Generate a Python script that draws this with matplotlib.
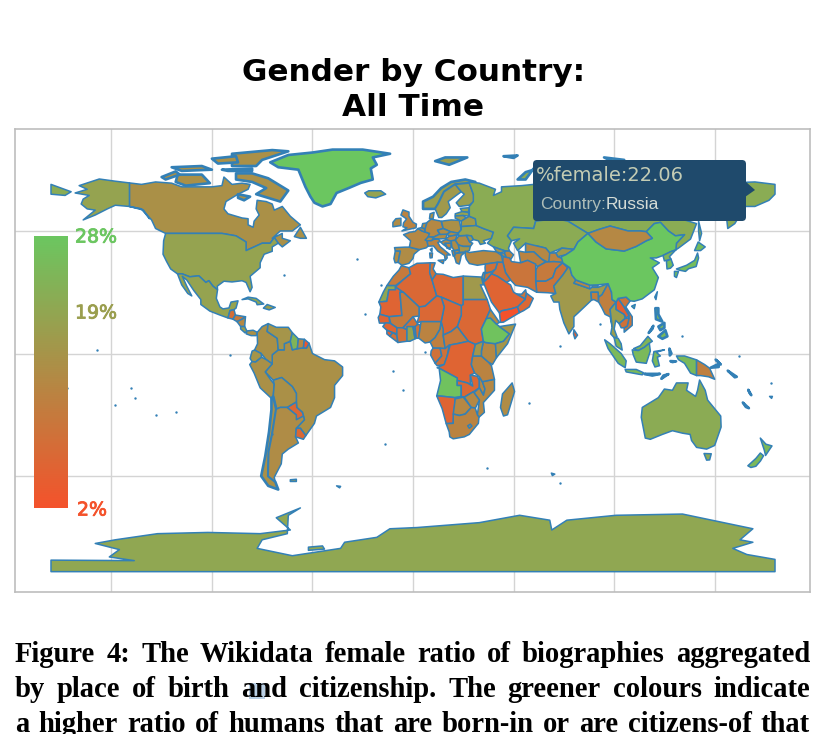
import matplotlib
matplotlib.use("Agg")
import matplotlib.pyplot as plt
import matplotlib.patheffects as pe
from matplotlib.colors import LinearSegmentedColormap, Normalize
from matplotlib.cm import ScalarMappable
from matplotlib.patches import FancyBboxPatch, Polygon, Rectangle

# ---- texts ----
title_lines = "Gender by Country:\nAll Time"
caption_lines = [
    "Figure 4: The Wikidata female ratio of biographies aggregated",
    "by place of birth and citizenship. The greener colours indicate",
    "a higher ratio of humans that are born-in or are citizens-of that",
]
scale_ticks = [28, 19, 2]
tooltip_value = 22.06
tooltip_country = "Russia"

# ---- graticule ----
lon_grid = [-150, -100, -50, 0, 50, 100, 150]
lat_grid = [-50, 0, 50]

# ---- country outlines (lon, lat) ----
north_america = {
 "Canada": [(-141,69.6),(-135,69),(-128,70),(-120,69.5),(-115,68),(-108,68),(-100,68),(-95,68.5),(-94,72),(-90,69),(-85,69.5),(-81,69),(-82,67),(-87,65),(-93,62),(-94,59),(-92,57),(-85,55.3),(-82,55),(-82,52.5),(-79.5,51.5),(-79,54),(-76.5,56.5),(-78,59),(-77.5,62.5),(-73,62),(-70,61),(-69,58.5),(-65,60),(-61,56),(-56,52.5),(-60,50),(-66,50),(-70,47),(-65,49),(-65,47),(-61,46),(-65,43.5),(-67,45),(-69,47.3),(-71,45),(-75,45),(-79,43.5),(-83,42),(-83,45.5),(-88,48),(-95,49),(-123,49),(-128,51),(-130,54.5),(-135,59),(-141,60)],
 "Alaska": [(-141,69.6),(-141,60),(-135,59),(-131,55),(-134,58.5),(-141,60),(-148,60.5),(-152,59),(-158,56.5),(-164,54.5),(-158,58.5),(-162,59),(-165,61),(-164,63),(-161,64.5),(-168,65.5),(-162,67),(-166,68.5),(-156,71.2),(-148,70.3)],
 "USA": [(-123,49),(-95,49),(-88,48),(-83,45.5),(-83,42),(-79,43.5),(-75,45),(-71,45),(-69,47.3),(-67,45),(-70,43.5),(-70,41.7),(-74,40.5),(-76,37),(-76,35),(-81,31.5),(-80,27),(-81,25.2),(-83,29),(-85,29.7),(-90,29.2),(-94,29.5),(-97.3,27.5),(-97.2,26),(-99.5,27.5),(-101.5,29.7),(-103,29),(-106.5,31.7),(-111,31.3),(-114.8,32.5),(-117.1,32.5),(-120.5,34.5),(-122.5,37.5),(-124.3,40.5),(-124,46)],
 "Mexico": [(-117.1,32.5),(-114.8,32.5),(-111,31.3),(-106.5,31.7),(-103,29),(-101.5,29.7),(-99.5,27.5),(-97.2,26),(-97.8,22.5),(-96,19),(-94.5,18.2),(-91.5,18.6),(-90.5,21),(-87,21.5),(-88,18.5),(-89,17.9),(-91,17.5),(-92,14.5),(-96,15.7),(-101,17.3),(-105.5,20),(-105.5,22),(-109,25.7),(-112.5,30),(-114.7,31.5),(-112.5,27.5),(-110,23.5),(-112,24.5),(-115,28)],
 "Greenland": [(-71,78),(-62,81),(-50,82),(-40,83.2),(-25,83.2),(-11.4,81.5),(-20,80),(-18,77),(-21,75.5),(-20,71),(-26,69.6),(-32,67.5),(-38,65.5),(-41,61),(-45,60),(-49,61.5),(-51,64),(-53.5,68),(-55,71),(-57,75),(-67,76)],
 "Baffin": [(-80,73.5),(-72,71.5),(-67,69),(-62,66.5),(-66,62),(-72,63.5),(-78,65),(-73,67.5),(-80,70),(-88,71),(-88,73.5)],
 "Ellesmere": [(-90,76.5),(-78,76.5),(-75,79),(-62,82.5),(-70,83),(-90,81.5)],
 "Victoria": [(-117,73),(-105,73),(-101,69.5),(-113,68.5),(-118,70)],
 "Banks": [(-125,72),(-118,74.3),(-116,73),(-123,71)],
 "Devon": [(-95,75),(-80,75.5),(-80,74.5),(-92,74.5)],
 "Parry": [(-120,76),(-105,76.5),(-100,75),(-115,74.5)],
 "Axel": [(-100,79.5),(-88,80.5),(-87,78),(-97,77.5)],
 "Southampton": [(-87,65),(-81,64),(-84,62.5),(-87,63.5)],
 "Newfoundland": [(-59,47.7),(-56,51.5),(-53,47),(-56,47)],
 "Cuba": [(-85,22),(-82,23),(-78,22.5),(-74.2,20.2),(-77.5,19.9),(-78,21),(-82,22.3)],
 "Hispaniola": [(-74.4,18.5),(-72.5,20),(-68.5,18.8),(-71.5,17.8)],
 "Guatemala": [(-92,14.5),(-91,17.5),(-89,17.9),(-88.3,15.7),(-89.5,14)],
 "Honduras": [(-88.3,15.7),(-83.3,15),(-85,14),(-87.5,13),(-89.5,14)],
 "Nicaragua": [(-87.5,13),(-85,14),(-83.3,15),(-83.7,11),(-85.7,11)],
 "CostaRica": [(-85.7,11),(-83.7,11),(-82.6,9.2),(-83.5,8.4),(-85.7,10)],
 "Panama": [(-82.9,8),(-82.6,9.2),(-79.5,9.5),(-77.3,8.6),(-78,7.3),(-80.5,7.3)],
}
north_america_pct = {"Canada":16,"Alaska":20,"USA":20,"Mexico":20,"Greenland":28,"Baffin":16,"Ellesmere":16,"Victoria":16,"Banks":16,"Devon":16,"Parry":16,"Axel":16,"Southampton":16,"Newfoundland":16,"Cuba":21,"Hispaniola":19,"Guatemala":8,"Honduras":11,"Nicaragua":14,"CostaRica":19,"Panama":16}

south_america = {
 "Brazil": [(-51.7,4.2),(-50,0),(-44,-2.5),(-39,-3),(-35,-5.5),(-35,-9),(-39,-13),(-39,-18),(-41,-22),(-48,-25.5),(-49,-28.5),(-53.3,-33.5),(-56,-30.5),(-58,-30.5),(-54,-27),(-54.5,-25.5),(-55,-24),(-57.8,-22),(-58,-19.8),(-58,-16.3),(-60,-13.5),(-65.3,-9.8),(-69.5,-10.9),(-73.5,-7.5),(-70,-4.2),(-70,-0.5),(-67,1.5),(-64,1.5),(-64,4),(-61,5),(-60,1.5),(-57.5,2),(-54.5,2.3),(-53,2.2)],
 "Colombia": [(-77.5,8.6),(-75,11),(-72,12.2),(-72.5,9),(-67.5,6.2),(-67,1.5),(-70,-0.5),(-70,-4.2),(-73,-2.5),(-75.5,0),(-78.8,1.4),(-77.3,4)],
 "Venezuela": [(-72,12.2),(-68,10.7),(-62,10.7),(-60,8.5),(-61,5),(-64,4),(-64,1.5),(-67,1.5),(-67.5,6.2),(-72.5,9)],
 "Guyana": [(-60,8.5),(-57,6),(-57.5,2),(-60,1.5),(-61,5)],
 "Suriname": [(-57,6),(-54,5.8),(-54.5,2.3),(-57.5,2)],
 "FrGuiana": [(-54,5.8),(-51.7,4.2),(-53,2.2),(-54.5,2.3)],
 "Ecuador": [(-80,1),(-78.8,1.4),(-75.5,0),(-75.3,-1.5),(-78.3,-3.5),(-80,-3.3),(-81,-2)],
 "Peru": [(-81.2,-4.5),(-80,-3.3),(-78.3,-3.5),(-75.3,-1.5),(-73,-2.5),(-70,-4.2),(-73.5,-7.5),(-70.5,-11),(-69,-12.5),(-69.5,-17.5),(-70.4,-18.3),(-76,-14),(-79,-8)],
 "Bolivia": [(-69.5,-10.9),(-65.3,-9.8),(-60,-13.5),(-58,-16.3),(-58,-19.8),(-62.5,-22),(-66,-22),(-68,-22.7),(-69.5,-17.5),(-69,-12.5)],
 "Chile": [(-70.4,-18.3),(-69.5,-17.5),(-68,-22.7),(-70,-33),(-71.7,-40),(-72,-50),(-68.5,-52.3),(-67,-55.5),(-72,-54),(-75.5,-50),(-73.5,-42),(-71.6,-32),(-70.4,-23)],
 "Argentina": [(-66,-22),(-62.5,-22),(-58,-25),(-54.5,-25.5),(-54,-27),(-58,-30.5),(-58.4,-34),(-57,-36.5),(-62,-39),(-65,-41),(-65.5,-45),(-69,-50.5),(-68.5,-52.3),(-72,-50),(-71.7,-40),(-70,-33),(-68,-22.7)],
 "Paraguay": [(-62.5,-22),(-58,-19.8),(-57.8,-22),(-55,-24),(-54.5,-25.5),(-58,-27),(-58,-25)],
 "Uruguay": [(-58,-30.5),(-56,-30.5),(-53.3,-33.5),(-54.5,-35),(-58.4,-34)],
 "Falkland": [(-61,-51.5),(-58,-51.3),(-58,-52.2),(-61,-52.2)],
 "SGeorgia": [(-38,-54),(-36,-54.2),(-36.5,-54.8)],
}
south_america_pct = {"Brazil":16,"Colombia":16,"Venezuela":17,"Guyana":24,"Suriname":14,"FrGuiana":3,"Ecuador":17,"Peru":16,"Bolivia":16,"Chile":16,"Argentina":15,"Paraguay":7,"Uruguay":7,"Falkland":18,"SGeorgia":18}

europe = {
 "Iceland": [(-24,65.5),(-22,66.4),(-16,66.4),(-13.6,65),(-18.5,63.5),(-22.5,64)],
 "Portugal": [(-9.5,38.7),(-8.8,41.9),(-6.3,41.8),(-7,39),(-7.4,37.2),(-8.9,37)],
 "Spain": [(-8.8,41.9),(-9.2,43.2),(-4,43.4),(-1.8,43.4),(3.2,42.4),(0.5,40.5),(0,38.8),(-2,36.8),(-5.5,36),(-7.4,37.2),(-7,39),(-6.3,41.8)],
 "France": [(-1.8,43.4),(3.2,42.4),(6.5,43.1),(7.5,43.8),(7,46),(8.2,49),(4.5,50),(2.5,51),(1,49.8),(-1.5,49.5),(-4.7,48.5),(-1.2,46)],
 "Belgium": [(2.5,51),(4.3,51.4),(6,50.7),(5.8,49.6),(4.5,50)],
 "Netherlands": [(4.3,51.4),(4.8,53),(7,53.3),(6,50.8)],
 "Germany": [(7,53.5),(9,54.8),(14,54),(15,51),(12.2,50.3),(13.5,48.6),(10,47.4),(7.6,47.6),(8.2,49),(6,49.6),(6,50.8)],
 "Switzerland": [(7,46),(6,46.3),(7.6,47.6),(9.5,47.5),(10.4,46.6),(9,46)],
 "Austria": [(9.5,47.5),(10,47.4),(13,48.6),(17,48.7),(16.3,46.9),(12.5,46.7),(10.4,46.9)],
 "Italy": [(7,46),(7.5,43.8),(10.2,43.9),(12.3,41.8),(15.7,40),(16,38),(17,39),(16.8,40.2),(18.5,40.2),(16,41.9),(13.5,43.6),(12.3,45.3),(13.7,45.7),(12.5,46.7),(10.4,46.6),(9,46)],
 "Sicily": [(12.5,38),(15.5,38.2),(15,36.7)],
 "Sardinia": [(8.3,41),(9.7,41),(9.5,39.1),(8.5,39)],
 "Corsica": [(8.6,42.4),(9.5,43),(9.4,41.5)],
 "UK": [(-5.5,50),(1.5,51.3),(1.7,52.8),(0,53.5),(-2,56),(-2,57.7),(-5,58.6),(-6,56.5),(-3.2,54.9),(-4.7,53.3),(-5,51.7),(-3,51.3)],
 "Ireland": [(-6,52.2),(-6,53.8),(-6,55.2),(-8.5,55),(-10,53.5),(-10,51.7)],
 "Denmark": [(8.2,55),(8.5,57),(10.5,57.6),(10,55)],
 "Norway": [(5,59),(5,62),(10,64),(14,67.5),(19,70),(26,71),(31,70),(28,69.5),(21,69),(15.5,66),(12.5,61),(11,59)],
 "Sweden": [(11,59),(12.5,61),(15.5,66),(21,69),(24,66),(21.5,64.5),(17.5,62),(18.5,59.5),(16.5,57),(14.3,55.5),(12.8,55.5)],
 "Finland": [(21,69),(28,69.5),(30,65),(31,62.5),(28,60.5),(23,60),(21.5,61.5),(25.5,65),(24,66)],
 "Svalbard": [(11,78.5),(16,80),(27,80),(18,77)],
 "Estonia": [(23.5,59.2),(28,59.5),(27.5,57.6),(24.3,57.9)],
 "Latvia": [(21,57),(24.3,57.9),(27.5,57.6),(28,56),(25,56.3),(21,56.1)],
 "Lithuania": [(21,56.1),(25,56.3),(26.5,55.3),(24,54),(21,55.2)],
 "Poland": [(14.2,54),(19,54.5),(23,54.3),(24,50.5),(22.5,49.1),(19,49.5),(15,51)],
 "Czechia": [(12.2,50.3),(15,51),(18.7,49.7),(17,48.7),(13.5,48.6)],
 "Slovakia": [(17,48.7),(18.7,49.7),(22.5,49.1),(22,48.4),(18,47.8)],
 "Hungary": [(16.3,46.9),(18,47.8),(22,48.4),(21,46.2),(18,45.8)],
 "Romania": [(21,46.2),(22.8,48),(26.5,48.2),(28.2,45.5),(29.7,45),(28.5,43.7),(25,43.7),(22.5,44.3)],
 "Bulgaria": [(22.5,44.3),(25,43.7),(28.5,43.7),(28,42),(26,41.3),(23,41.3)],
 "Greece": [(20.5,39.6),(21,40.8),(26,41.3),(24,40),(23.5,38),(23,36.5),(21.5,37),(21,38.5)],
 "Albania": [(19.3,42),(20.5,42),(21,40.4),(20,39.7)],
 "Macedonia": [(20.5,42),(23,42.2),(23,41.3),(21,40.8)],
 "Serbia": [(19,46),(21,46.2),(22.5,44.3),(23,42.5),(20.5,42),(19.3,43.5)],
 "Bosnia": [(15.8,45),(19,45),(19,43),(17,43)],
 "Croatia": [(13.7,45.5),(16.3,46.5),(19,45.8),(19,45),(15.8,45),(17,43),(18.5,42.5),(15,44.5)],
 "Belarus": [(24,54),(26.5,55.3),(28,56),(31,55),(31.5,52.2),(24,51.8)],
 "Ukraine": [(24,50.5),(24,51.8),(31.5,52.2),(35,51),(40,49.5),(39,47),(35,46),(36,45),(33.5,44.5),(32.5,46),(30,46.5),(29,48),(26.5,48.2),(22.8,48),(22.5,49.1)],
 "Moldova": [(26.5,48.2),(29,48),(30,46.5),(28.2,45.5)],
}
europe_pct = {"Iceland":20,"Portugal":15,"Spain":15,"France":14,"Belgium":14,"Netherlands":15,"Germany":14,"Switzerland":15,"Austria":15,"Italy":13,"Sicily":13,"Sardinia":13,"Corsica":14,"UK":13,"Ireland":15,"Denmark":16,"Norway":19,"Sweden":18,"Finland":19,"Svalbard":19,"Estonia":20,"Latvia":20,"Lithuania":18,"Poland":16,"Czechia":15,"Slovakia":15,"Hungary":14,"Romania":15,"Bulgaria":17,"Greece":14,"Albania":12,"Macedonia":14,"Serbia":15,"Bosnia":13,"Croatia":14,"Belarus":18,"Ukraine":20,"Moldova":18}

asia = {
 "Russia": [(28,70),(33,69.5),(41,67),(40,64.5),(44,66),(44,68),(54,68.5),(60,69),(68,68.5),(68,72.5),(73,72),(75,72.8),(80,73.5),(87,75),(100,76.5),(105,77.7),(113,74),(125,73.5),(130,71),(140,72.5),(150,71),(160,69.7),(170,70),(180,69),(180,65),(177,62.5),(170,60),(164,60),(163,57),(160,53),(156.5,51),(155.7,57),(163,62),(156,61.5),(150,59.5),(142,59),(135,54.5),(141,53),(138,46.7),(132,43),(130.7,42.3),(131,45),(135,48.5),(130.5,48),(127,50),(123,53.5),(120,53),(116,49.7),(113,50),(107,50),(98,52),(92,50.5),(87,49),(83,51),(77,54),(71,55),(61,54),(60,51),(50,51.5),(47,48),(49,46),(47.5,43),(48,41.8),(46,41.8),(40,43.5),(37,45),(39,47),(40,49.5),(35,51),(31.5,52.2),(31,55),(28,56),(28,60),(30,62),(30,65),(28,69.5)],
 "Chukotka": [(-180,69),(-175,67.5),(-170,66),(-173,64.5),(-180,65)],
 "Novaya": [(52,71),(56,74),(68,77),(60,75.5),(56,71)],
 "FranzJosef": [(45,80.5),(52,80.8),(50,79.8)],
 "Severnaya": [(95,80),(105,79),(100,78)],
 "Sakhalin": [(142,54),(143.5,49),(142.5,46),(142,50)],
 "Turkey": [(26,40),(26,41.8),(28,41.2),(35,42),(41.5,41.5),(44,40),(44.7,37.2),(42,37.2),(36,36.5),(32,36),(28,36.7),(26.5,38.5)],
 "Georgia": [(40,43.5),(46,41.8),(43.5,41),(41.5,41.5)],
 "Armenia": [(43.5,41),(45.5,41),(46.5,39),(44.7,39.7)],
 "Azerbaijan": [(46,41.8),(48,41.8),(50,40.3),(48.7,38.5),(46.5,39),(45.5,41)],
 "Kazakhstan": [(47,48),(50,51.5),(60,51),(61,54),(71,55),(77,54),(83,51),(87,49),(82,45.5),(80,42.5),(74,43),(68,41),(66,43),(61,44),(56,41.3),(56,45),(52,42),(50,45),(53,46.8),(49,46)],
 "Uzbekistan": [(56,41.3),(56,45),(61,44),(66,43),(68,41),(71,41),(67,37.3),(64,38.5),(60,41.5)],
 "Turkmenistan": [(52.5,41.8),(56,41.3),(60,41.5),(64,38.5),(66,37.3),(62,35.5),(57,38),(53.5,37)],
 "Kyrgyzstan": [(71,41),(74,43),(80,42.5),(76,40.3),(72,39.5)],
 "Tajikistan": [(68,41),(71,41),(72,39.5),(75,38.5),(75,37),(70,37.5),(67.5,37.3)],
 "Afghanistan": [(62,35.5),(66,37.3),(70,37.5),(74.5,37.2),(71,34.5),(69.5,31),(66,29.5),(61,29.5),(61,34)],
 "Pakistan": [(61,29.5),(66,29.5),(69.5,31),(71,34.5),(74.5,37),(77,35),(74.5,32),(70,27.5),(71,24.5),(67,24.8),(61.5,25)],
 "Iran": [(44.7,39.5),(48,39),(49,37.5),(53.5,37),(57,38),(61,36.5),(61,29.5),(61.5,25),(57,27),(51,27.8),(48.5,30),(46,33),(44.7,37.2)],
 "Iraq": [(42,37.2),(44.7,37.2),(46,33),(48.5,30),(46.5,29),(42,31.5),(39,32.5),(41,34.5)],
 "Syria": [(36,36.5),(42,37.2),(41,34.5),(38.5,33),(36,33),(35.8,35)],
 "Jordan": [(35.5,32.5),(38.8,33.4),(39,32.5),(37,30.5),(35,29.5)],
 "Israel": [(34.3,31.3),(35,33),(35.8,33.2),(35.5,31),(35,29.5)],
 "Saudi": [(35,29),(37,30.5),(39,32.5),(42,31.5),(46.5,29),(48.5,28),(50,25),(51.5,24.3),(55,22.7),(55.7,22),(52,19),(48.7,18.2),(44,17.4),(43,16.5),(39,21),(37,25)],
 "Yemen": [(43,16.5),(44,17.4),(48.7,18.2),(52,19),(53,16.7),(45,12.8),(43.5,12.7)],
 "Oman": [(52,19),(55.7,22),(56.3,24.7),(59.8,22.5),(57.8,19),(55,17.5),(53,16.7)],
 "UAE": [(51.5,24.3),(55,22.7),(55.7,22),(56.3,24.7),(56,26),(54,24.2)],
 "India": [(74.5,37),(78,35),(79,32),(81,30),(80,28.7),(88,26.4),(89,27),(92,27),(97,28.5),(94,24),(92.3,23),(92,25),(88.5,25),(88.8,21.8),(86.5,20),(82,16.5),(80,15),(80,11),(77.5,8),(75,12.5),(73,18),(72.6,21),(70,21),(68.5,23.5),(71,24.5),(70,27.5),(74.5,32),(77,35)],
 "Nepal": [(80,28.7),(81,30),(88,27.9),(88,26.4)],
 "Bhutan": [(89,27),(92,27),(92,28),(89,28)],
 "Bangladesh": [(88.5,25),(92,25),(92.3,21),(90,22),(88.8,21.8)],
 "SriLanka": [(80,9.7),(81.8,7.5),(80.5,6),(79.8,8)],
 "Myanmar": [(97,28.5),(98.7,25),(99,22),(101,21),(98,18),(99,11),(98,15),(95.5,16),(94,18.5),(92.3,21),(92.3,23),(94,24)],
 "Thailand": [(98,18),(101,21),(101,18),(105,16),(105.5,14.3),(102.5,12.2),(100.8,13.5),(100,10),(101.5,6.7),(100,6.5),(98.3,8),(99,11)],
 "Laos": [(101,21),(102,22.5),(105,19),(107.5,15.5),(106,14.5),(105,16),(101,18)],
 "Vietnam": [(102,22.5),(106,23),(108,21.5),(105.8,19),(109,15),(109,11.5),(105,8.7),(105,10.5),(106.5,11.2),(107.5,15.5),(105,19)],
 "Cambodia": [(102.5,12.2),(105.5,14.3),(107.5,14.5),(106.5,11.2),(105,10.5),(103.5,10.5)],
 "MalaysiaW": [(100,6.5),(102,6.2),(103.5,4),(104,1.4),(101,3)],
 "MalaysiaE": [(109.7,2),(113,3.2),(116.8,7),(119,5),(117.5,4.2),(115,2.5),(112,1.2)],
 "Sumatra": [(95.3,5.6),(98,4),(103.5,0),(106,-3),(105.5,-5.8),(102,-4),(97,2)],
 "Java": [(105.5,-6.5),(111,-6.5),(114.5,-7.8),(114,-8.7),(106,-7.5)],
 "Kalimantan": [(109,1.5),(112,1.2),(115,2.5),(117.5,4.2),(118,1),(116,-4),(111,-3.5),(109.5,-0.5)],
 "Sulawesi": [(119.8,0.8),(125,1.5),(121,0.5),(123,-1),(121.5,-1.5),(122.5,-5),(120.3,-5.5),(119,-3)],
 "Halmahera": [(127.5,2),(128.5,0),(127.7,-0.8)],
 "Ceram": [(128,-3.1),(130.8,-3.2),(129,-3.5)],
 "Timor": [(123.5,-10.3),(127,-8.4),(124.5,-9)],
 "Flores": [(115,-8.3),(122.8,-8.3),(119,-9)],
 "Papua": [(141,-2.6),(141,-9),(138,-8),(135,-4),(132,-2.5),(131,-1),(135,-1)],
 "PNG": [(141,-2.6),(145,-4.5),(147.5,-6),(150,-10.5),(147,-9.5),(143,-9),(141,-9)],
 "NewBritain": [(148,-5.8),(152,-4.2),(152,-5.5)],
 "NewIreland": [(150.5,-2.5),(153,-4.5),(152,-3.6)],
 "Luzon": [(120.5,18.5),(122,18.5),(122,16),(124,13),(120.8,14)],
 "Visayas": [(122,11),(125,12.5),(125,10.5),(123,9.5)],
 "Mindanao": [(122,7),(125.5,9.5),(126.5,7),(124,6)],
 "Palawan": [(117.2,8.4),(119.5,11.3),(119,10)],
 "China": [(73.7,39.5),(76,40.3),(80,42.5),(82,45.5),(87,49),(91,45.5),(96,42.7),(105,41.8),(111,43.7),(116,46),(119,47),(116,49.7),(120,53),(123,53.5),(127,50),(130.5,48),(135,48.5),(131,45),(130.7,42.3),(128,41.5),(124.3,40),(121,39),(118,39),(122.5,37),(119,35),(122,31),(120,26),(114,22.3),(110,21.3),(108,21.5),(106,23),(102,22.5),(101,21),(99,22),(98.7,25),(97,28.5),(92,28),(88,27.9),(81,30),(79,32),(78,35),(74.5,37)],
 "Hainan": [(108.7,19.3),(110.5,20),(110,18.3)],
 "Taiwan": [(120.2,23),(121.5,25.2),(120.8,22)],
 "Mongolia": [(87,49),(91,45.5),(96,42.7),(105,41.8),(111,43.7),(116,46),(119,47),(116,49.7),(113,50),(107,50),(98,52),(92,50.5)],
 "NKorea": [(124.3,40),(128,41.5),(130.7,42.3),(127.5,39.5),(128.3,38.5),(125,37.8)],
 "SKorea": [(126,37.7),(128.3,38.5),(129.4,36),(128,34.8),(126.3,34.5)],
 "Honshu": [(131,34.5),(136,36),(140,38),(141.5,41),(142,39),(140.8,35.5),(137,34.6),(135.5,33.5),(132.5,34)],
 "Hokkaido": [(140,42),(141.8,45.5),(145.3,43.5),(143,42)],
 "Kyushu": [(130,33.5),(132,33.5),(131,31),(130,31.5)],
}
asia_pct = {"Russia":22.06,"Chukotka":22.06,"Novaya":22.06,"FranzJosef":22.06,"Severnaya":22.06,"Sakhalin":22.06,"Turkey":14,"Georgia":17,"Armenia":15,"Azerbaijan":13,"Kazakhstan":22,"Uzbekistan":14,"Turkmenistan":13,"Kyrgyzstan":18,"Tajikistan":13,"Afghanistan":11,"Pakistan":10,"Iran":10,"Iraq":9,"Syria":9,"Jordan":10,"Israel":15,"Saudi":6,"Yemen":2,"Oman":7,"UAE":10,"India":18,"Nepal":14,"Bhutan":16,"Bangladesh":12,"SriLanka":5,"Myanmar":12,"Thailand":19,"Laos":5,"Vietnam":10,"Cambodia":9,"MalaysiaW":24,"MalaysiaE":24,"Sumatra":25,"Java":25,"Kalimantan":25,"Sulawesi":25,"Halmahera":25,"Ceram":25,"Timor":25,"Flores":25,"Papua":25,"PNG":12,"NewBritain":12,"NewIreland":12,"Luzon":25,"Visayas":25,"Mindanao":25,"Palawan":25,"China":28,"Hainan":28,"Taiwan":24,"Mongolia":14,"NKorea":24,"SKorea":26,"Honshu":26,"Hokkaido":26,"Kyushu":26}

africa = {
 "Morocco": [(-5.8,35.8),(-2,35),(-1.2,32.5),(-5,30),(-8.7,27.7),(-13,27.7),(-9.8,31.5),(-7,34)],
 "WSahara": [(-13,27.7),(-8.7,27.7),(-8.7,26),(-12,26),(-13,21.3),(-17,21),(-14.8,25)],
 "Mauritania": [(-17,21),(-13,21.3),(-12,26),(-8.7,26),(-8.7,27.2),(-4.8,25),(-6.5,25),(-5.5,15.5),(-12,15),(-16.5,16),(-16,19)],
 "Algeria": [(-2,35),(2,36.8),(8.6,37),(8.3,33),(9.5,30),(11.8,23.5),(6,19.3),(3,19),(-4.8,25),(-8.7,27.2),(-5,30),(-1.2,32.5)],
 "Tunisia": [(8.6,37),(11,37),(10,34.5),(11.5,32.5),(9.5,30),(8.3,33)],
 "Libya": [(11.5,32.5),(15,32.3),(20,31),(25,31.6),(25,20),(24,19.5),(14,23),(11.8,23.5),(9.5,30)],
 "Egypt": [(25,31.6),(34,31.2),(35,28),(33.5,28),(36.9,22),(25,22)],
 "Sudan": [(25,22),(36.9,22),(38.5,18),(36.5,14.3),(34,10),(35,5),(31,3.7),(27.5,5),(24,8.7),(22,11),(24,15.7),(24,19.5),(25,20)],
 "Chad": [(14,23),(24,19.5),(24,15.7),(22,11),(19,9),(15,7.5),(14,13),(15.5,19)],
 "Niger": [(3,15.3),(3,19),(6,19.3),(11.8,23.5),(14,23),(15.5,19),(14,13),(9,13),(4,13),(2,12.5)],
 "Mali": [(-12,15),(-5.5,15.5),(-6.5,25),(-4.8,25),(3,19),(3,15.3),(0,15),(-5,10.5),(-8,10.5),(-11,12.2)],
 "Senegal": [(-16.5,16),(-12,15),(-11.5,12.4),(-16.7,12.4),(-17.3,14.7)],
 "Guinea": [(-15,11),(-13.7,12.5),(-11.5,12.4),(-8,10.5),(-8,8),(-10,8.5),(-13,9.5)],
 "SierraLeone": [(-13,9.5),(-10,8.5),(-11.5,7),(-13,8)],
 "Liberia": [(-11.5,7),(-10,8.5),(-8,7.5),(-7.5,4.5)],
 "IvoryCoast": [(-8,7.5),(-8,10.5),(-5,10.5),(-3,9.8),(-3,5),(-7.5,4.5)],
 "Burkina": [(-5,10.5),(0,15),(2,12.5),(2.5,11),(-3,9.8)],
 "Ghana": [(-3,5),(-3,11),(0,11),(1,6),(-1.5,5)],
 "Togo": [(0,11),(1,11),(1.6,6.2),(1,6)],
 "Benin": [(1,11),(2.5,12),(3.7,11.5),(2.8,6.3),(1.6,6.2)],
 "Nigeria": [(2.8,6.3),(3.7,11.5),(4,13),(9,13),(14,13),(13.5,10),(11,6.5),(8.5,4.7),(6,4.3)],
 "Cameroon": [(8.5,4.7),(11,6.5),(13.5,10),(14,13),(15,10),(15,7.5),(16,2),(10,2.2)],
 "CAR": [(15,7.5),(19,9),(22,11),(24,8.7),(27.5,5),(22,4),(18.5,3.5),(16,2)],
 "Gabon": [(9,1),(10,2.2),(13.5,2.2),(14.3,-1),(11,-4),(8.8,-0.7)],
 "Congo": [(11,-4),(14.3,-1),(13.5,2.2),(16,2),(18,3.5),(17,-1),(15.5,-4.5),(12,-5)],
 "DRC": [(12,-5.8),(15.5,-4.5),(17,-1),(18.5,3.5),(22,4),(27.5,5),(31,3.7),(29.7,-1),(29,-4.5),(30.7,-8),(28.5,-8.8),(28.5,-12),(29.7,-13.3),(27,-12),(22,-11),(22,-10),(17.5,-8),(13,-6)],
 "Angola": [(13,-6),(17.5,-8),(22,-10),(22,-13),(24,-13),(24,-17.5),(20.8,-18),(14,-17.4),(11.8,-17.3),(13.7,-11)],
 "Zambia": [(22,-11),(27,-12),(29.7,-13.3),(28.5,-8.8),(32,-9.3),(33,-11),(33,-14),(30,-15.6),(25.5,-17.8),(24,-17.5),(24,-13),(22,-13)],
 "Malawi": [(33,-9.5),(34.5,-11.5),(35.8,-14.5),(35,-17),(33,-14),(33,-11)],
 "Mozambique": [(34.5,-11.5),(40.5,-10.5),(40.5,-15),(35,-20),(35.5,-24),(32.8,-26),(32,-25),(33,-19),(30.3,-16),(33,-14),(35,-17),(35.8,-14.5)],
 "Tanzania": [(29.7,-1),(34,-1),(37.5,-3.5),(39,-5),(40.5,-10.5),(34.5,-11.5),(33,-9.5),(30.7,-8),(29,-4.5)],
 "Kenya": [(34,-1),(37.5,-3.5),(39.5,-4.5),(41.5,-1.7),(41,4),(36,4.5),(35,5),(34,1)],
 "Uganda": [(29.7,-1),(34,-1),(34,1),(35,5),(31,3.7)],
 "Ethiopia": [(36.5,14.3),(38.5,14.5),(41.5,12),(43,11),(48,8),(45,5),(41,4),(36,4.5),(35,5),(34,10)],
 "Eritrea": [(38.5,18),(43,12.7),(41.5,12),(38.5,14.5),(36.5,14.3)],
 "Somalia": [(43,11),(51,12),(47,4),(41.5,-1.7),(41,4),(45,5),(48,8)],
 "Namibia": [(11.8,-17.3),(14,-17.4),(20.8,-18),(25,-17.8),(21,-18.5),(20,-28.5),(16.5,-28.6),(14.5,-22.5)],
 "Botswana": [(21,-18.5),(25,-17.8),(29,-22),(26,-24.7),(23,-25.3),(20,-24.7)],
 "Zimbabwe": [(25.5,-17.8),(30,-15.6),(33,-19),(31,-22.3),(29,-22)],
 "SouthAfrica": [(16.5,-28.6),(20,-28.5),(20,-24.7),(23,-25.3),(26,-24.7),(29,-22),(31,-22.3),(32,-25),(32.8,-26),(32.5,-28.5),(28,-33),(25.5,-34),(20,-34.8),(18.3,-34),(18,-32)],
 "Lesotho": [(27.2,-29.5),(28.5,-28.8),(29.3,-29.6),(28,-30.5)],
 "Madagascar": [(49.3,-12),(50.5,-15.5),(47,-25),(45,-25.5),(43.5,-22),(44.5,-16.5)],
}
africa_pct = {"Morocco":11,"WSahara":21,"Mauritania":6,"Algeria":7,"Tunisia":10,"Libya":7,"Egypt":18,"Sudan":7,"Chad":7,"Niger":7,"Mali":11,"Senegal":6,"Guinea":6,"SierraLeone":5,"Liberia":9,"IvoryCoast":9,"Burkina":9,"Ghana":20,"Togo":9,"Benin":9,"Nigeria":13,"Cameroon":12,"CAR":11,"Gabon":9,"Congo":9,"DRC":6,"Angola":27,"Zambia":7,"Malawi":14,"Mozambique":14,"Tanzania":13,"Kenya":14,"Uganda":17,"Ethiopia":27,"Eritrea":14,"Somalia":17,"Namibia":6,"Botswana":14,"Zimbabwe":14,"SouthAfrica":13,"Lesotho":13,"Madagascar":15}

oceania = {
 "Australia": [(114,-22),(113.5,-26),(115.5,-34.5),(118,-35),(124,-33),(129,-31.5),(134,-32.5),(137.8,-33),(138.5,-35.5),(141,-38.3),(146,-39),(150,-37.5),(153.2,-30),(153,-25.5),(146.5,-19),(145.3,-15),(142.5,-10.8),(141.5,-15),(140.5,-17.5),(136,-15),(136.8,-12),(131,-12),(129,-15),(125,-14.5),(122,-18),(117,-20.5)],
 "Tasmania": [(144.7,-40.8),(148.3,-40.9),(147.5,-43.4),(146,-43.5)],
 "NZNorth": [(172.7,-34.5),(175.5,-37),(178.5,-37.7),(177,-39.5),(175.3,-41.6),(174.7,-39.5)],
 "NZSouth": [(172.7,-40.6),(174.3,-41.7),(172.8,-43.8),(170.5,-46),(168,-46.5),(166.5,-45.8),(170.5,-42.8)],
 "NewCaledonia": [(164,-20),(167,-22.3),(165.5,-21.8)],
 "Vanuatu": [(166.7,-14.8),(168.2,-17),(167.3,-16)],
 "Solomon": [(156.5,-7),(161,-9.5),(160,-9.7)],
 "Fiji": [(177.3,-17.5),(178.7,-17.5),(178.3,-18.3)],
 "Kerguelen": [(68.8,-48.8),(70.5,-49.2),(69.3,-49.8)],
 "Antarctica": [(-180,-89),(-180,-84.3),(-138.6,-84.5),(-151,-83),(-146,-80),(-158,-77.5),(-148,-76),(-127,-73.5),(-102,-73),(-76,-73.5),(-61,-72),(-68,-67),(-56,-63),(-62,-66),(-62.5,-73.5),(-75,-76),(-77.5,-79.5),(-60,-82.5),(-36,-79.5),(-34,-77),(-18,-75),(-11.5,-71.5),(2,-71),(33,-69),(53,-66),(68,-68),(69,-72),(76.5,-68),(101,-66),(134,-65.5),(169,-71.5),(162.6,-76),(169,-77),(159,-79.5),(166,-82),(180,-84),(180,-89)],
 "Berkner": [(-52,-79),(-45,-78.5),(-44,-79.8),(-52,-80.3)],
}
oceania_pct = {"Australia":22,"Tasmania":22,"NZNorth":25,"NZSouth":25,"NewCaledonia":22,"Vanuatu":22,"Solomon":22,"Fiji":22,"Kerguelen":21,"Antarctica":21,"Berkner":21}

# shapes whose broken coast reads as a heavier blue line in the reference
rugged_coasts = ["Greenland","Baffin","Ellesmere","Victoria","Banks","Devon","Parry","Axel","Southampton","Chile",
                 "Norway","Svalbard","Novaya","FranzJosef","Severnaya","Luzon","Visayas","Mindanao","Palawan",
                 "NewBritain","NewIreland","Solomon","Vanuatu","NewCaledonia","Timor","Flores","Ceram","Halmahera"]

# tiny islands, too small to outline
islet_lon = [-157,-140,-138,-148,-118,-91,-28,-16,-24,-64,-5,-10,6,57.5,73,93,37,73,-128,-70,178,-172,-14,162,134]
islet_lat = [1.4,-14,-18,-21,-24,-0.5,38.6,28,16,32,-15,-7,0.5,-20.3,3,12,-46.8,-53,-25,-33,-12,-14,-37,-1,7]

# ---- colours ----
edge_blue = "#3380b6"
low_red = "#f4522b"
high_green = "#6bc660"
tip_blue = "#1f4a6c"
grid_grey = "#d4d4d4"
frame_grey = "#bdbdbd"

plt.rcParams["font.family"] = "DejaVu Sans"
W, H = 831, 734
fig = plt.figure(figsize=(W / 100, H / 100), dpi=100)
cmap = LinearSegmentedColormap.from_list("female", [low_red, high_green])
norm = Normalize(min(scale_ticks), max(scale_ticks))

ax = fig.add_axes([15 / W, (H - 592) / H, 795 / W, 463 / H])
ax.set_xlim(-197.9, 197.4)
ax.set_ylim(-97.3, 91.6)
ax.set_xticks(lon_grid)
ax.set_yticks(lat_grid)
ax.tick_params(length=0, labelbottom=False, labelleft=False)
ax.grid(True, color=grid_grey, lw=1)
ax.set_axisbelow(True)
for s in ax.spines.values():
    s.set_color(frame_grey)
    s.set_linewidth(1.2)

for shapes, pct in [(north_america, north_america_pct), (south_america, south_america_pct),
                    (europe, europe_pct), (asia, asia_pct), (africa, africa_pct),
                    (oceania, oceania_pct)]:
    for name, outline in shapes.items():
        lw = 1.9 if name in rugged_coasts else 1.1
        ax.add_patch(Polygon(outline, closed=True, facecolor=cmap(norm(pct[name])),
                             edgecolor=edge_blue, lw=lw, joinstyle="round", zorder=2))
ax.scatter(islet_lon, islet_lat, s=3, color=edge_blue, linewidths=0, zorder=2)

# colour scale
cax = fig.add_axes([34 / W, (H - 508) / H, 34 / W, 272 / H])
cb = fig.colorbar(ScalarMappable(norm=norm, cmap=cmap), cax=cax)
cb.outline.set_visible(False)
cb.set_ticks([])

# overlay in pixels for the labels, the tooltip and the caption
ov = fig.add_axes([0, 0, 1, 1], zorder=5)
ov.set_xlim(0, W)
ov.set_ylim(H, 0)
ov.axis("off")

for tick, y, x in zip(scale_ticks, [237, 313, 510], [75, 75, 77]):
    c = cmap(norm(tick))
    ov.text(x, y, f"{tick}%", color=c, fontsize=13.6, va="center", ha="left",
            path_effects=[pe.withStroke(linewidth=0.6, foreground=c)])

ov.text(413.5, 90, title_lines, ha="center", va="center", fontsize=22.4, fontweight="bold",
        color="black", linespacing=1.22)

# tooltip
ov.add_patch(Polygon([(745, 181), (755, 190), (745, 197)], closed=True, facecolor=tip_blue, edgecolor="none"))
ov.add_patch(FancyBboxPatch((536, 163), 207, 55, boxstyle="round,pad=3,rounding_size=4",
                            facecolor=tip_blue, edgecolor="none"))
ov.text(536, 181, f"%female:{tooltip_value}", color="#c3ccb4", fontsize=14, va="baseline", ha="left")
ov.text(540, 209, "Country:", color="#aebdb8", fontsize=12.5, family="Liberation Sans", va="baseline")
ov.text(606, 209, tooltip_country, color="#d5dcd6", fontsize=12.5, family="Liberation Sans", va="baseline")

# caption, justified word by word
ov.add_patch(Rectangle((249, 683), 16, 16, facecolor="#b9cfe4", edgecolor="none", zorder=0))
fig.canvas.draw()
renderer = fig.canvas.get_renderer()
for line, base in zip(caption_lines, [662, 697, 731.5]):
    words = line.split(" ")
    items = [ov.text(0, base, w, fontsize=20.6, fontweight="bold", family="Liberation Serif",
                     va="baseline", ha="left", color="black") for w in words]
    widths = [it.get_window_extent(renderer).width for it in items]
    gap = (795 - sum(widths)) / (len(words) - 1)
    x = 15
    for it, wd in zip(items, widths):
        it.set_x(x)
        x += wd + gap

fig.savefig("out.png", dpi=100)
